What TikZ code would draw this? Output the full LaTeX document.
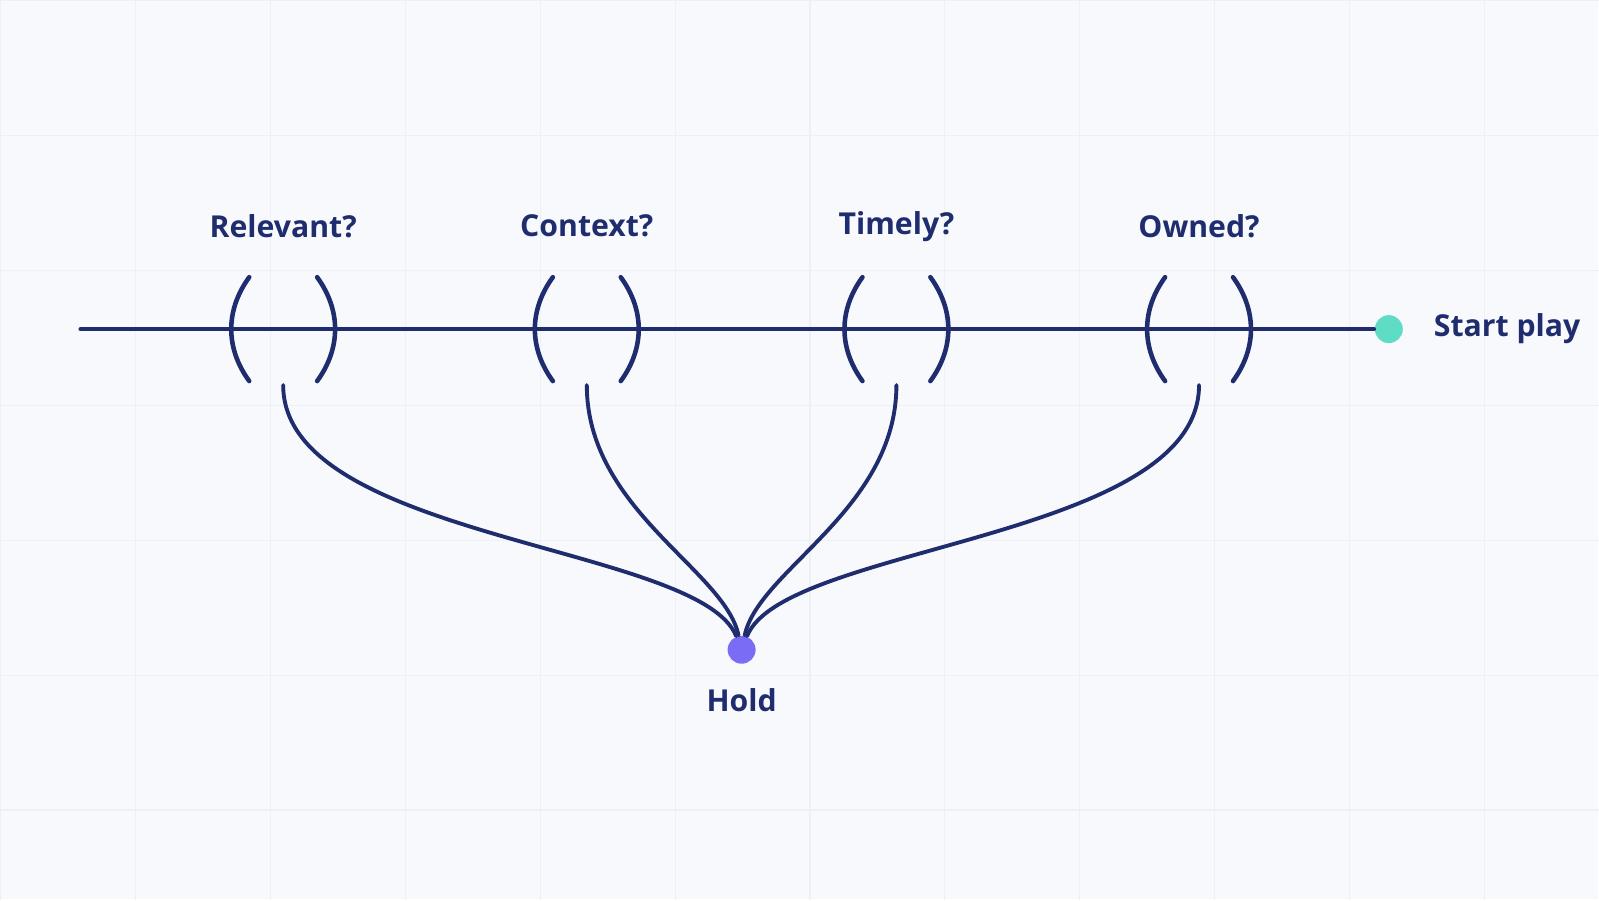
\documentclass[tikz,border=0pt]{standalone}
\usepackage{fontspec}
\setmainfont{Open Sans}
\usetikzlibrary{positioning}
\definecolor{ink}{HTML}{1F2D6E}
\definecolor{paper}{HTML}{F8F9FC}
\definecolor{gridc}{HTML}{EDF0F5}
\definecolor{mint}{HTML}{5EDCC4}
\definecolor{violet}{HTML}{7B6CF6}
\tikzset{
  lbl/.style={text=ink, font=\fontsize{8.6}{10}\selectfont\bfseries},
  gate/.style={ink, line width=1.3pt},
  dot/.style={circle, inner sep=0pt, minimum size=0.28cm}
}
\begin{document}
\begin{tikzpicture}[x=0.01cm, y=-0.01cm, line cap=round]
  % background and faint grid
  \fill[paper] (0,0) rectangle (1599,900);
  \draw[gridc, line width=0.3pt, step=1.35cm] (0,0) grid (15.99cm,-9cm);
  \useasboundingbox (0,0) rectangle (1599,900);

  % main line
  \coordinate (start) at (80,329);
  \node[dot, fill=mint] (play) at (1390,329) {};
  \node[lbl, right=0.18cm of play] {Start play};
  \draw[ink, line width=1.1pt] (start) -- (play);

  \node[dot, fill=violet] (hold) at (742,650) {};
  \node[lbl, below=0.12cm of hold] {Hold};

  \foreach \x/\t [count=\i] in {283/Relevant?, 587/Context?, 897/Timely?, 1200/Owned?}{
    \node[lbl] (q\i) at (\x,226) {\t};
    \draw[gate] (\x-34,277) .. controls (\x-58,310) and (\x-58,348) .. (\x-34,381);
    \draw[gate] (\x+34,277) .. controls (\x+58,310) and (\x+58,348) .. (\x+34,381);
    \coordinate (g\i) at (\x,385);
  }

  % branches into hold
  \draw[ink, line width=1.1pt] (g1) .. controls (283,540) and (700,545) .. (hold);
  \draw[ink, line width=1.1pt] (g2) .. controls (587,510) and (725,570) .. (hold);
  \draw[ink, line width=1.1pt] (g3) .. controls (897,510) and (759,570) .. (hold);
  \draw[ink, line width=1.1pt] (g4) .. controls (1200,540) and (784,545) .. (hold);
\end{tikzpicture}
\end{document}
